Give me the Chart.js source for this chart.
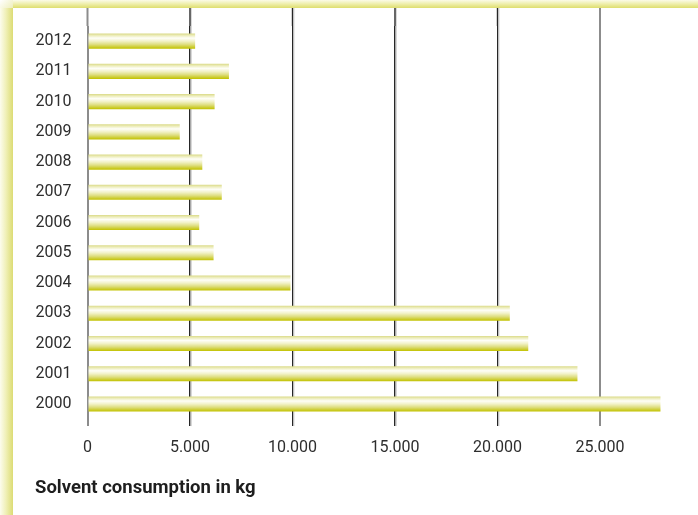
<!DOCTYPE html>
<html>
<head>
<meta charset="utf-8">
<script src="https://cdn.jsdelivr.net/npm/chart.js@4.4.1/dist/chart.umd.min.js"></script>
<style>
  html, body { margin: 0; padding: 0; background: #ffffff; }
  #page { position: relative; width: 698px; height: 515px; overflow: hidden; background: #ffffff; }
  #topglow { position: absolute; left: 0; top: 0; width: 698px; height: 8px;
    background: linear-gradient(to bottom, #fbfbe8 0%, #eeeeaa 50%, #dede6e 100%); }
  #leftglow { position: absolute; left: 0; top: 0; width: 13px; height: 515px;
    background: linear-gradient(to right, #fcfcee 0%, #f0f0b8 45%, #dcdc74 100%); }
  #corner { position: absolute; left: 0; top: 0; width: 13px; height: 8px;
    background: linear-gradient(135deg, #ffffff 0%, #eeeebb 100%); }
  #wrap { position: absolute; left: 13px; top: 8px; width: 685px; height: 507px; background: #ffffff; }
</style>
</head>
<body>
<div id="page">
  <div id="topglow"></div>
  <div id="leftglow"></div>
  <div id="corner"></div>
  <div id="wrap"><canvas id="c"></canvas></div>
</div>
<script>
// ---- data ----
const years = ['2012','2011','2010','2009','2008','2007','2006','2005','2004','2003','2002','2001','2000'];
const consumptionKg = [5250, 6900, 6200, 4500, 5600, 6550, 5450, 6150, 9900, 20600, 21500, 23900, 27950];
const xTickValues = [0, 5000, 10000, 15000, 20000, 25000];
const axisTitle = 'Solvent consumption in kg';

function fmt(v) {
  return String(v).replace(/\B(?=(\d{3})+(?!\d))/g, '.');
}

function barGradient(context) {
  const chart = context.chart;
  const area = chart.chartArea;
  if (!area) return '#d0d040';
  const yScale = chart.scales.y;
  const meta = chart.getDatasetMeta(context.datasetIndex);
  const el = meta.data[context.dataIndex];
  const cy = yScale.getPixelForValue(context.dataIndex);
  const h = el && el.height ? el.height : 15;
  const g = chart.ctx.createLinearGradient(0, cy - h / 2, 0, cy + h / 2);
  g.addColorStop(0, '#dada88');
  g.addColorStop(0.12, '#ececb8');
  g.addColorStop(0.3, '#fefef8');
  g.addColorStop(0.5, '#f2f2c8');
  g.addColorStop(0.72, '#dede80');
  g.addColorStop(1, '#c2c200');
  return g;
}

function isEdge(v) { return v === 0 || v === 25000; }
function gridColor(ctx) {
  const v = ctx.tick ? ctx.tick.value : null;
  return isEdge(v) ? '#8c8c8c' : '#262626';
}
function gridWidth(ctx) {
  const v = ctx.tick ? ctx.tick.value : null;
  return isEdge(v) ? 2 : 1.4;
}

const gridExtend = {
  id: 'gridExtend',
  beforeDatasetsDraw(chart) {
    const ctx = chart.ctx;
    const xs = chart.scales.x;
    const top = chart.chartArea.top;
    ctx.save();
    xs.ticks.forEach((t) => {
      const x = xs.getPixelForValue(t.value);
      const grey = isEdge(t.value);
      if (!grey) {
        ctx.strokeStyle = '#d8d8d8';
        ctx.lineWidth = 1;
        ctx.beginPath();
        ctx.moveTo(x + 1.5, 0);
        ctx.lineTo(x + 1.5, chart.chartArea.bottom + 7);
        ctx.stroke();
      }
      ctx.strokeStyle = grey ? '#8c8c8c' : '#262626';
      ctx.lineWidth = grey ? 2 : 1.4;
      ctx.beginPath();
      ctx.moveTo(x, 0);
      ctx.lineTo(x, top);
      ctx.stroke();
    });
    ctx.restore();
  }
};

new Chart(document.getElementById('c'), {
  type: 'bar',
  data: {
    labels: years,
    datasets: [{
      data: consumptionKg,
      backgroundColor: barGradient,
      borderWidth: 0,
      categoryPercentage: 1.0,
      barPercentage: 0.5
    }]
  },
  plugins: [gridExtend],
  options: {
    indexAxis: 'y',
    responsive: true,
    maintainAspectRatio: false,
    animation: false,
    layout: { padding: { left: 22, right: 36.5, top: 18, bottom: 0 } },
    plugins: {
      legend: { display: false },
      tooltip: { enabled: false },
      title: {
        display: true,
        text: axisTitle,
        position: 'bottom',
        align: 'start',
        color: '#1e1e1e',
        font: { family: 'Roboto', size: 18.5, weight: 'bold', lineHeight: 1.2 },
        padding: { top: 8, bottom: 15.5 }
      }
    },
    scales: {
      x: {
        type: 'linear',
        min: 0,
        max: 28000,
        afterBuildTicks(scale) {
          scale.ticks = xTickValues.map(v => ({ value: v }));
        },
        afterFit(scale) { scale.paddingLeft = 0; scale.paddingRight = 0; },
        ticks: {
          includeBounds: false,
          color: '#2e2e2e',
          font: { family: 'Roboto', size: 16, lineHeight: 1.2 },
          padding: 12,
          callback: (v) => fmt(v)
        },
        grid: {
          display: true,
          drawOnChartArea: true,
          drawTicks: true,
          tickLength: 7,
          color: gridColor,
          tickColor: gridColor,
          lineWidth: gridWidth,
          tickWidth: gridWidth
        },
        border: { display: false }
      },
      y: {
        type: 'category',
        afterFit(scale) { scale.width = 52.5; scale.paddingTop = 0; scale.paddingBottom = 0; },
        ticks: {
          color: '#2e2e2e',
          font: { family: 'Roboto', size: 16, lineHeight: 1.2 },
          padding: 16
        },
        grid: { display: false, drawTicks: false },
        border: { display: false }
      }
    }
  }
});
</script>
</body>
</html>
